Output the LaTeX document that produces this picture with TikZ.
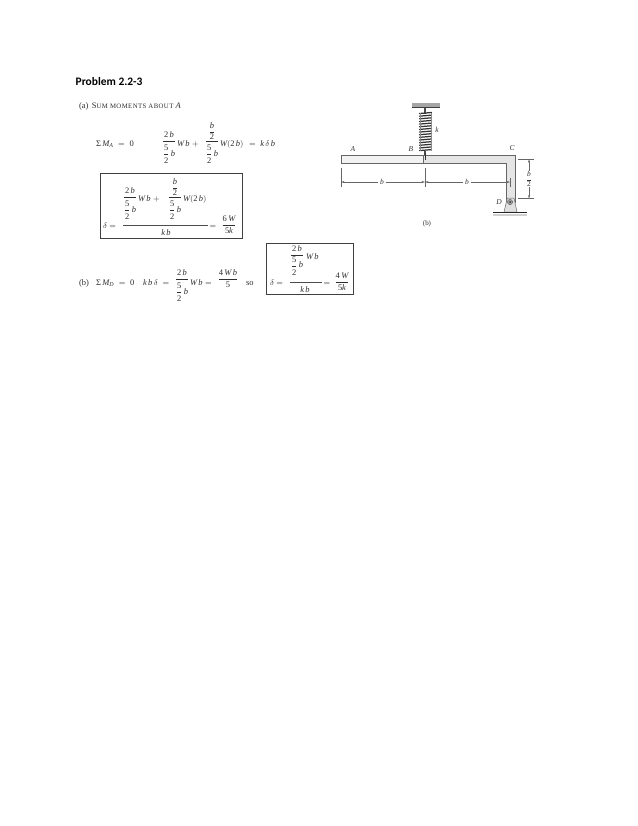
\documentclass[tikz,border=0pt]{standalone}
\usepackage{amsmath}
\usepackage{fontspec}
\setmainfont{Liberation Serif}
\newfontfamily\headfont{Carlito}
\usetikzlibrary{arrows.meta}
\newcommand{\mi}[1]{\text{\itshape #1}}
\newcommand{\up}[1]{\text{\upshape #1}}
\newcommand{\twob}{\up{2}\,\mi{b}}
\newcommand{\Wb}{\mi{W}\,\mi{b}}
\newcommand{\kb}{\mi{k}\,\mi{b}}
% 5/2 b: the first argument opens the room above the 5
\newcommand{\fiveb}[1][8.5pt]{\dfrac{\rule{0pt}{#1}\up{5}}{\rule{0pt}{8pt}\up{2}}\,\mi{b}}
\newcommand{\fracnest}[1][8.5pt]{\dfrac{\twob}{\fiveb[#1]}}
\newcommand{\halfnest}{\dfrac{\dfrac{\mi{b}}{\up{2}}}{\fiveb}}
\newcommand{\sumsym}{\up{Σ}}
\newcommand{\smc}[1]{{\fontsize{6.8}{8}\selectfont\addfontfeatures{LetterSpace=6} #1}}
\tikzset{
  x=1bp,y=-1bp,
  eq/.style={inner sep=0pt,outer sep=0pt,anchor=base,text=black!82,font=\fontsize{8.5}{9}\selectfont},
  eqw/.style={eq,anchor=base west},
  lab/.style={inner sep=0pt,outer sep=0pt,text=black!80,font=\fontsize{7.5}{8}\selectfont\itshape},
  frame/.style={draw=black!75,line width=0.8pt},
  rule/.style={draw=black!70,line width=0.5pt},
  dim/.style={draw=black!60,line width=0.4pt},
  dimarrow/.style={draw=black!60,line width=0.4pt,-{Stealth[length=3.5pt,width=2pt]}},
  beam/.style={draw=black!60,line width=0.7pt}
}
\begin{document}
\begin{tikzpicture}
\useasboundingbox[fill=white] (0,0) rectangle (638,826);
\node[inner sep=0pt,anchor=west,font=\headfont\bfseries\fontsize{11.5}{12}\selectfont] (title) at (75.5,82) {Problem 2.2-3};
\node[eqw] (parta) at (79,108) {(a)\, S\smc{UM MOMENTS ABOUT} \textit{A}};
% part (a), equilibrium
\node[eqw] (suma) at (96,146) {$\sumsym\,\mi{M}_{\mi{A}} \;=\; \up{0}$};
\node[eq] (fa1) at (169,143.2) {$\fracnest$};
\node[eqw] (wba) at (177,146) {$\Wb\;+$};
\node[eq] (fa2) at (212,143.2) {$\halfnest$};
\node[eqw] (wa) at (220,146) {$\mi{W}(\twob)$};
\node[eqw] (wa2) at (249,146) {$= \;\mi{k}\,\delta\,\mi{b}$};
% boxed delta
\draw[frame] (100,173) rectangle (242,238);
\node[eqw] (da) at (103,228) {$\delta =$};
\draw[rule] (123,225) -- (208,225);
\node[eq] (fb1) at (130,199.2) {$\fracnest$};
\node[eqw] (wbb) at (138,201) {$\Wb\;+$};
\node[eq] (fb2) at (175,199.2) {$\halfnest$};
\node[eqw] (wb2) at (183,201) {$\mi{W}(\twob)$};
\node[eq] (kba) at (166,235) {$\kb$};
\node[eq] (eqa) at (213,228) {$=$};
\node[eq] (res1) at (229,227.1) {$\dfrac{\up{6}\,\mi{W}}{\up{5}\mi{k}}$};
% part (b)
\node[eqw] (partb) at (79,285.5) {(b)};
\node[eqw] (sumd) at (96,285.5) {$\sumsym\,\mi{M}_{\mi{D}} \;=\; \up{0}$};
\node[eqw] (kbd) at (143,285.5) {$\kb\,\delta \;=$};
\node[eq] (fc1) at (182,281.1) {$\fracnest$};
\node[eqw] (wbc) at (190,285.5) {$\Wb =$};
\node[eq] (fc2) at (228,281.1) {$\dfrac{\up{4}\,\Wb}{\up{5}}$};
\node[eqw] (so) at (246,285.5) {so};
\draw[frame] (266.5,243) rectangle (353,294.5);
\node[eqw] (dd) at (270,285) {$\delta =$};
\draw[rule] (290,282.3) -- (322,282.3);
\node[eq] (fd1) at (297,257.1) {$\fracnest[6pt]$};
\node[eqw] (wbd) at (306,259.5) {$\Wb$};
\node[eq] (kbb) at (305,292) {$\kb$};
\node[eq] (eqb) at (327,285) {$=$};
\node[eq] (res2) at (342,284.4) {$\dfrac{\up{4}\,\mi{W}}{\up{5}\mi{k}}$};
% figure (b): ceiling and spring
\fill[black!35] (412,103) rectangle (440,107);
\draw[black!75,line width=0.8pt] (412,107.5) -- (440,107.5);
\draw[black!70,line width=1.2pt] (425,108) -- (425,114) (425,151) -- (425,160);
\foreach \i in {0,...,14}{
  \draw[black!80,line width=1.25pt,line cap=round] (419.5,{113.5+2.65*\i}) -- (431.5,{112.5+2.65*\i});
}
\draw[black!45,line width=0.5pt] (420,113) -- (420,151) (431,113) -- (431,151);
% beam
\draw[beam,fill=black!5] (341,155) rectangle (423,163);
\draw[beam,fill=black!10] (423,155) -- (515,155) -- (515,202) -- (506.5,202) -- (506.5,163) -- (423,163) -- cycle;
\draw[black!80,line width=1.2pt] (425.5,153) -- (425.5,160);
% support at D
\draw[draw=black!60,line width=0.5pt,fill=black!12] (504,212) -- (507.3,198) -- (514,198) -- (517,212) -- cycle;
\draw[black!70,fill=black!35,line width=0.4pt] (510,202) circle (2.6);
\fill[black!85] (510,202) circle (1);
\draw[black!85,line width=1.6pt] (493,212.5) -- (527,212.5);
\fill[black!18] (493,213.5) rectangle (527,216);
% dimension lines
\coordinate (ta) at (341,182); \coordinate (tb) at (425,182); \coordinate (tc) at (510,182);
\draw[dim] (341,168) -- (341,187) (425,168) -- (425,187) (510,177.5) -- (510,186.5);
\node[lab,inner xsep=2pt] (bl) at (382,182) {b};
\node[lab,inner xsep=2pt] (br) at (467,182) {b};
\draw[dimarrow] (bl) -- (ta); \draw[dimarrow] (bl) -- (tb);
\draw[dimarrow] (br) -- (tb); \draw[dimarrow] (br) -- (tc);
\draw[dim] (518,159.3) -- (534,159.3) (518,198.5) -- (534,198.5);
\coordinate (ht) at (529,159.3); \coordinate (hb) at (529,198.5);
\node[lab,anchor=center,font=\fontsize{7.5}{8}\selectfont] (half) at (529,179) {$\dfrac{\mi{b}}{\up{2}}$};
\draw[dimarrow] (half) -- (ht); \draw[dimarrow] (half) -- (hb);
\node[lab] (la) at (353,149) {A};
\node[lab] (lb) at (411,149) {B};
\node[lab] (lc) at (512,148) {C};
\node[lab] (lk) at (437,130) {k};
\node[lab] (ld) at (499,202) {D};
\node[eq,anchor=center,font=\fontsize{7}{8}\selectfont] (cap) at (427,224) {(b)};
\end{tikzpicture}
\end{document}
